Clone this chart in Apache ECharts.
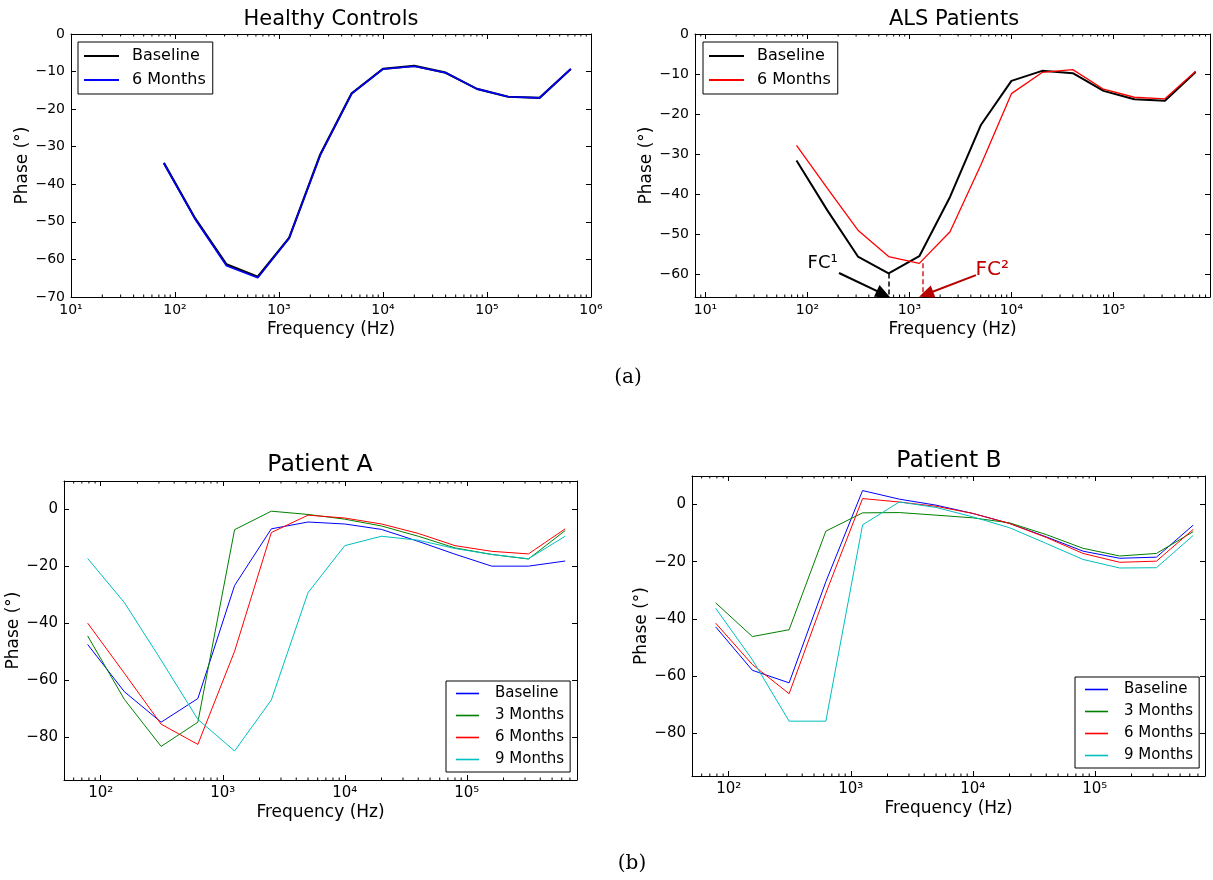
<!DOCTYPE html>
<html><head><meta charset="utf-8">
<script src="https://cdn.jsdelivr.net/npm/echarts@6/dist/echarts.min.js"></script>
<style>html,body{margin:0;padding:0;background:#fff}#c{width:1213px;height:880px}</style>
</head><body><div id="c"></div>
<script>
// ---------- data ----------
const freq = [78.125, 156.25, 312.5, 625, 1250, 2500, 5000, 10000, 20000, 40000, 80000, 160000, 320000, 640000];
const decadeLabels = ['10⁰', '10¹', '10²', '10³', '10⁴', '10⁵', '10⁶'];
const minorMultipliers = [2, 3, 4, 5, 6, 7, 8, 9];

const hcBaseline = [-34.3, -49.1, -61.3, -64.6, -54.3, -32.0, -15.8, -9.3, -8.5, -10.3, -14.6, -16.7, -17.0, -9.3];
const hc6m       = [-34.4, -49.3, -61.7, -64.9, -54.3, -32.2, -15.9, -9.3, -8.6, -10.3, -14.6, -16.7, -17.0, -9.3];

const alsBaseline = [-31.6, -44.0, -55.6, -59.8, -55.5, -40.7, -22.8, -11.7, -9.2, -9.8, -14.2, -16.3, -16.7, -9.5];
const als6m       = [-27.8, -38.5, -49.0, -55.6, -57.3, -49.4, -32.8, -14.9, -9.6, -8.9, -13.8, -15.8, -16.2, -9.3];

const paBaseline = [-47.4, -64.0, -74.7, -66.4, -26.7, -6.8, -4.4, -5.1, -7.0, -11.2, -15.7, -19.9, -19.9, -18.1];
const pa3m       = [-44.4, -66.7, -83.2, -74.7, -7.1, -0.6, -1.75, -3.4, -5.8, -9.4, -13.5, -15.8, -17.4, -7.4];
const pa6m       = [-39.9, -57.5, -75.4, -82.5, -49.8, -8.1, -2.0, -3.0, -5.1, -8.4, -12.7, -14.7, -15.6, -6.8];
const pa9m       = [-17.2, -32.7, -52.9, -73.7, -84.8, -66.9, -29.2, -12.7, -9.4, -10.8, -13.7, -15.8, -17.3, -9.4];

const pbBaseline = [-42.8, -58.0, -62.4, -27.0, 4.9, 1.9, -0.2, -3.1, -6.6, -11.3, -16.3, -18.8, -18.4, -7.2];
const pb3m       = [-34.4, -46.2, -43.8, -9.3, -2.9, -2.8, -3.7, -4.65, -6.4, -10.5, -15.3, -18.0, -17.1, -9.5];
const pb6m       = [-41.5, -56.0, -66.2, -31.0, 2.1, 0.9, -0.6, -3.1, -6.6, -11.5, -17.1, -20.2, -19.8, -8.7];
const pb9m       = [-36.3, -54.3, -75.8, -75.8, -7.1, 0.9, -1.0, -4.3, -8.1, -13.6, -19.2, -22.2, -22.1, -10.8];

// FC annotation values (ALS panel)
const fc1Freq = 625, fc1Phase = -59.8;
const fc2Freq = 1337, fc2Phase = -57.3;
const fc1Text = [141, -57.3], fc1ArrowFrom = [204, -59.7], fc1ArrowTo = [557, -65.0];
const fc2Text = [6475, -59.0], fc2ArrowFrom = [4490, -60.25], fc2ArrowTo = [1456, -65.0];

// ---------- helpers ----------
const FONT = 'DejaVu Sans';
const pts = ys => freq.map((f, i) => [f, ys[i]]);
const minus = v => (v < 0 ? '\u2212' + Math.abs(v) : String(v));
const decadeFmt = v => {
  const l = Math.log10(v), e = Math.round(l);
  return Math.abs(l - e) < 1e-6 && e >= 0 && e < decadeLabels.length ? decadeLabels[e] : '';
};

const grids = [
  {left: 71, top: 34, width: 520, height: 263},
  {left: 695, top: 34, width: 517, height: 263},
  {left: 64, top: 481, width: 513, height: 299},
  {left: 692, top: 476, width: 513, height: 300}
];
const xRange = [[10, 1e6], [7.9, 885000], [50, 8e5], [50, 8e5]];
const yRange = [[-70, 0, 7], [-65.7, 0, 7], [-95, 10, 5], [-95, 10, 5]];
const tickFont = [14, 14, 15, 15];

const xAxes = [], yAxes = [];
grids.forEach((g, i) => {
  ['bottom', 'top'].forEach(pos => {
    xAxes.push({
      type: 'log', logBase: 10, gridIndex: i, position: pos,
      min: xRange[i][0], max: xRange[i][1],
      axisLine: {show: true, onZero: false, lineStyle: {color: '#000', width: 1}},
      axisTick: {show: true, inside: true, length: 5, lineStyle: {color: '#000'}},
      minorTick: {show: false},
      splitLine: {show: false}, minorSplitLine: {show: false},
      axisLabel: {show: pos === 'bottom', color: '#000', fontFamily: FONT, fontSize: tickFont[i],
        margin: 6, formatter: decadeFmt, showMinLabel: true, showMaxLabel: true},
      name: pos === 'bottom' ? 'Frequency (Hz)' : '',
      nameLocation: 'middle', nameGap: 24,
      nameTextStyle: {color: '#000', fontFamily: FONT, fontSize: 17}
    });
  });
  ['left', 'right'].forEach(pos => {
    yAxes.push({
      type: 'value', gridIndex: i, position: pos,
      min: yRange[i][0], max: yRange[i][1], splitNumber: yRange[i][2],
      axisLine: {show: true, onZero: false, lineStyle: {color: '#000', width: 1}},
      axisTick: {show: true, inside: true, length: 5, lineStyle: {color: '#000'}},
      splitLine: {show: false},
      axisLabel: {show: pos === 'left', color: '#000', fontFamily: FONT, fontSize: tickFont[i],
        margin: 6, formatter: v => (Math.abs(v - Math.round(v)) > 1e-6 ? '' : minus(v)),
        showMinLabel: i === 0, showMaxLabel: i < 2},
      name: pos === 'left' ? 'Phase (°)' : '',
      nameLocation: 'middle', nameGap: 40, nameRotate: 90,
      nameTextStyle: {color: '#000', fontFamily: FONT, fontSize: 17}
    });
  });
});

const line = (name, data, gi, color, width, z) => ({
  name, type: 'line', data: pts(data), xAxisIndex: gi * 2, yAxisIndex: gi * 2,
  symbol: 'none', showSymbol: false, z: z || 2,
  lineStyle: {color, width}, itemStyle: {color}, emphasis: {disabled: true}
});

// minor log ticks (2..9 × 10^n) on bottom and top of each log axis
const minorTickSeries = gi => {
  const vals = [];
  for (let e = 0; e <= 6; e++) minorMultipliers.forEach(m => {
    const v = m * Math.pow(10, e);
    if (v > xRange[gi][0] && v < xRange[gi][1]) vals.push([v]);
  });
  const yMin = yRange[gi][0], yMax = yRange[gi][1];
  return {
    type: 'custom', name: 'minor' + gi, coordinateSystem: 'cartesian2d',
    xAxisIndex: gi * 2, yAxisIndex: gi * 2, silent: true, clip: false, z: 5,
    data: vals,
    renderItem: (params, api) => {
      const pb = api.coord([api.value(0), yMin]);
      const pt = api.coord([api.value(0), yMax]);
      const st = {stroke: '#000', lineWidth: 1};
      return {type: 'group', children: [
        {type: 'line', shape: {x1: pb[0], y1: pb[1], x2: pb[0], y2: pb[1] - 2.5}, style: st},
        {type: 'line', shape: {x1: pt[0], y1: pt[1], x2: pt[0], y2: pt[1] + 2.5}, style: st}
      ]};
    }
  };
};

const alsBase = line('Baseline#als', alsBaseline, 1, '#000', 2, 2);
alsBase.markLine = {
  silent: true, symbol: ['none', 'none'], label: {show: false}, animation: false,
  data: [
    [{coord: [fc1Freq, fc1Phase], lineStyle: {color: '#000', type: [5, 3], width: 1.5}},
     {coord: [fc1Freq, yRange[1][0]]}],
    [{coord: [fc2Freq, fc2Phase], lineStyle: {color: '#d62020', type: [5, 3], width: 1.5}},
     {coord: [fc2Freq, yRange[1][0]]}],
    [{coord: fc1ArrowFrom, lineStyle: {color: '#000', type: 'solid', width: 2}},
     {coord: fc1ArrowTo, symbol: 'triangle', symbolSize: [13, 15]}],
    [{coord: fc2ArrowFrom, lineStyle: {color: '#b80000', type: 'solid', width: 2}},
     {coord: fc2ArrowTo, symbol: 'triangle', symbolSize: [13, 15]}]
  ]
};
alsBase.markPoint = {
  silent: true, symbol: 'circle', symbolSize: 0, animation: false,
  data: [
    {coord: fc1Text, label: {show: true, position: 'inside', formatter: 'FC¹', color: '#000', fontFamily: FONT, fontSize: 18}},
    {coord: fc2Text, label: {show: true, position: 'inside', formatter: 'FC²', color: '#c00000', fontFamily: FONT, fontSize: 20}}
  ]
};

const series = [
  line('Baseline#hc', hcBaseline, 0, '#000', 2.2),
  line('6 Months#hc', hc6m, 0, '#0000ff', 1.6, 3),
  alsBase,
  line('6 Months#als', als6m, 1, '#ff0000', 1.3, 3),
  line('Baseline#pa', paBaseline, 2, '#0000ff', 1),
  line('3 Months#pa', pa3m, 2, '#008000', 1),
  line('6 Months#pa', pa6m, 2, '#ff0000', 1),
  line('9 Months#pa', pa9m, 2, '#00bfbf', 1),
  line('Baseline#pb', pbBaseline, 3, '#0000ff', 1),
  line('3 Months#pb', pb3m, 3, '#008000', 1),
  line('6 Months#pb', pb6m, 3, '#ff0000', 1),
  line('9 Months#pb', pb9m, 3, '#00bfbf', 1),
  minorTickSeries(0), minorTickSeries(1), minorTickSeries(2), minorTickSeries(3)
];

const legend = (items, left, top, opts) => Object.assign({
  data: items, orient: 'vertical', left, top, selectedMode: false, icon: 'rect',
  backgroundColor: '#fff', borderColor: '#000', borderWidth: 1, borderRadius: 0,
  formatter: n => n.split('#')[0]
}, opts);

const legends = [
  legend([{name: 'Baseline#hc', itemStyle: {color: '#000'}}, {name: '6 Months#hc'}], 78, 42,
    {itemWidth: 35, itemHeight: 2, itemGap: 6, padding: [5, 7, 5, 6],
     textStyle: {color: '#000', fontFamily: FONT, fontSize: 16, lineHeight: 18, padding: [0, 0, 0, 8]}}),
  legend([{name: 'Baseline#als'}, {name: '6 Months#als'}], 703, 42,
    {itemWidth: 35, itemHeight: 2, itemGap: 6, padding: [5, 7, 5, 6],
     textStyle: {color: '#000', fontFamily: FONT, fontSize: 16, lineHeight: 18, padding: [0, 0, 0, 8]}}),
  legend(['Baseline#pa', '3 Months#pa', '6 Months#pa', '9 Months#pa'], 446, 681,
    {itemWidth: 23, itemHeight: 1.6, itemGap: 5, padding: [4, 6, 4, 10],
     textStyle: {color: '#000', fontFamily: FONT, fontSize: 15, lineHeight: 17, padding: [0, 0, 0, 11]}}),
  legend(['Baseline#pb', '3 Months#pb', '6 Months#pb', '9 Months#pb'], 1075, 677,
    {itemWidth: 23, itemHeight: 1.6, itemGap: 5, padding: [4, 6, 4, 10],
     textStyle: {color: '#000', fontFamily: FONT, fontSize: 15, lineHeight: 17, padding: [0, 0, 0, 11]}})
];

const title = (text, x, y, size, family) => ({
  text, left: x, top: y, textAlign: 'center', padding: 0,
  textStyle: {color: '#000', fontFamily: family || FONT, fontSize: size, fontWeight: 'normal'}
});

const option = {
  animation: false,
  backgroundColor: '#fff',
  title: [
    title('Healthy Controls', 331, 9, 21),
    title('ALS Patients', 954, 9, 21),
    title('Patient A', 320, 453, 23.5),
    title('Patient B', 949, 449, 23.5),
    title('(a)', 628, 368, 20, 'DejaVu Serif'),
    title('(b)', 632, 854, 20, 'DejaVu Serif')
  ],
  grid: grids.map(g => Object.assign({containLabel: false}, g)),
  xAxis: xAxes,
  yAxis: yAxes,
  legend: legends,
  series
};

const chart = echarts.init(document.getElementById('c'), null, {renderer: 'canvas'});
chart.setOption(option);
</script>
</body></html>
